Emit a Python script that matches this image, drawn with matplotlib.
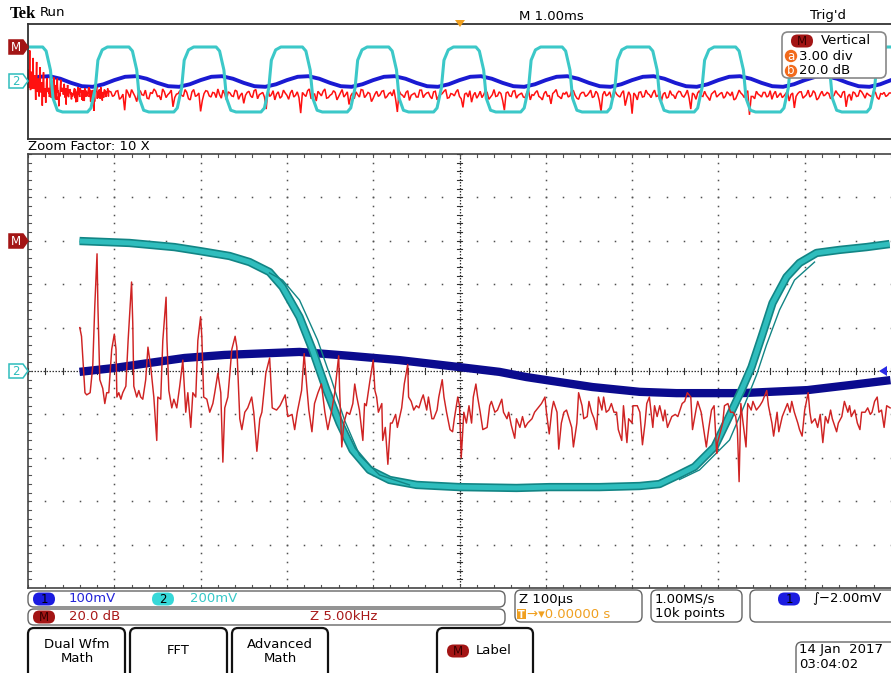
import numpy as np
import matplotlib
matplotlib.use("Agg")
import matplotlib.pyplot as plt
from matplotlib.patches import FancyBboxPatch, Polygon, Circle, Rectangle

plt.rcParams['font.family'] = ['DejaVu Sans']

# ---------------- zoomed window (100 us/div) ----------------
# channel 2, main persistence band (time us, mV)
ch2_zoom_us = [-440.3, -382.4, -330.2, -301.3, -266.5, -243.3, -220.2, -205.1, -185.4, -170.3,
               -154.1, -139.0, -124.0, -104.3, -81.1, -49.8, 0.0, 66.0, 104.3, 162.2,
               208.6, 231.7, 249.1, 272.3, 295.5, 310.5, 326.8, 338.4, 350.0, 362.7,
               378.9, 394.0, 413.7, 440.3, 471.6, 498.3]
ch2_zoom_mv = [599, 590, 571, 553, 530, 502, 456, 387, 249, 97,
               -88, -240, -364, -456, -502, -525, -535, -539, -535, -535,
               -530, -521, -488, -442, -350, -226, -88, 18, 157, 313,
               433, 498, 544, 558, 571, 585]
# channel 2, stray acquisitions on the falling and rising edges
ch2_fall_us = [-220.2, -205.1, -185.4, -164.5, -148.3, -133.3, -115.9, -92.7, -57.9]
ch2_fall_mv = [452, 419, 327, 143, -41, -226, -387, -479, -525]
ch2_rise_us = [255.0, 278.1, 312.9, 330.2, 344.2, 355.7, 370.8, 388.2, 411.4]
ch2_rise_mv = [-500, -456, -318, -157, -18, 120, 281, 419, 502]
# channel 1 (time us, mV)
ch1_zoom_us = [-440.3, -399.8, -361.5, -318.7, -272.3, -222.5, -185.4, -127.5, -69.5, 0.0,
               46.3, 77.6, 100.8, 154.1, 208.6, 251.4, 326.8, 403.2, 454.2, 499.4]
ch1_zoom_mv = [-2, 7, 18, 30, 37, 41, 44, 35, 25, 9,
               -2, -14, -21, -37, -48, -51, -51, -44, -32, -21]
# math FFT, zoomed span (kHz, dB)
fft_zoom_khz = [
    0.0, 0.1, 0.3, 0.4, 0.6, 0.75, 0.87, 1.0, 1.05, 1.16,
    1.33, 1.45, 1.56, 1.68, 1.85, 2.0, 2.1, 2.15, 2.26, 2.38,
    2.49, 2.67, 2.8, 3.0, 3.07, 3.13, 3.3, 3.42, 3.53, 3.65,
    3.82, 3.95, 4.11, 4.29, 4.46, 4.52, 4.69, 4.81, 5.0, 5.05,
    5.16, 5.33, 5.45, 5.62, 5.79, 5.97, 6.14, 6.26, 6.43, 6.55,
    6.72, 6.84, 7.0, 7.07, 7.18, 7.36, 7.53, 7.71, 7.82, 8.0,
    8.17, 8.29, 8.4, 8.58, 8.81, 9.0, 9.1, 9.27, 9.39, 9.56,
    9.73, 9.96, 10.08, 10.26, 10.43, 10.55, 10.78, 11.0, 11.15, 11.4,
    11.6, 11.9, 12.05, 12.3, 12.45, 12.6, 12.85, 13.0, 13.15, 13.27,
    13.45, 13.6, 13.8, 14.0, 14.2, 14.37, 14.6, 14.77, 15.0, 15.06,
    15.18, 15.3, 15.47, 15.64, 15.82, 15.93, 16.05, 16.2, 16.4, 16.5,
    16.6, 16.8, 17.0, 17.1, 17.2, 17.3, 17.5, 17.55, 17.7, 17.85,
    18.0, 18.1, 18.3, 18.4, 18.65, 18.8, 19.0, 19.05, 19.2, 19.35,
    19.5, 19.65, 19.8, 19.9, 20.1, 20.2, 20.4, 20.5, 20.7, 20.8,
    21.0, 21.1, 21.25, 21.45, 21.6, 21.7, 21.9, 22.0, 22.1, 22.25,
    22.4, 22.55, 22.7, 22.8, 22.95, 23.05, 23.2, 23.35, 23.6, 23.75,
    23.85, 24.05, 24.2, 24.45, 24.55, 24.75, 24.85, 25.0, 25.2, 25.3,
    25.5, 25.65, 25.8, 25.95, 26.2, 26.35, 26.55, 26.75, 26.95, 27.05,
    27.2, 27.35, 27.45, 27.65, 27.75, 27.9, 28.05, 28.2, 28.35, 28.5,
    28.6, 28.8, 28.9, 29.1, 29.2, 29.4, 29.5, 29.65, 29.8, 29.95,
    30.05, 30.25, 30.35, 30.5, 30.65, 30.8, 30.95, 31.1, 31.2, 31.4,
    31.5, 31.7, 31.8, 32.0, 32.05, 32.3, 32.45, 32.6, 32.75, 32.85,
    33.0, 33.2, 33.3, 33.45, 33.6, 33.8, 33.9, 34.05, 34.3, 34.5,
    34.65, 34.9, 35.05, 35.2, 35.4, 35.5, 35.7, 35.8, 36.0, 36.15,
    36.3, 36.45, 36.6, 36.75, 36.9, 36.95, 37.15, 37.25, 37.35, 37.55,
    37.7, 37.85, 38.0, 38.1, 38.2, 38.3, 38.4, 38.6, 38.7, 38.9,
    39.0, 39.2, 39.4, 39.55, 39.8, 39.9, 40.1, 40.2, 40.4, 40.5,
    40.7, 40.85, 41.0, 41.15, 41.25, 41.4, 41.6, 41.7, 41.85, 42.0,
    42.2, 42.3, 42.4, 42.6, 42.75, 42.9, 43.05, 43.2, 43.35, 43.5,
    43.6, 43.85, 43.95, 44.15, 44.3, 44.5, 44.6, 44.7, 44.9, 45.05,
    45.2, 45.3, 45.5, 45.65, 45.8, 45.9, 46.05, 46.2, 46.3, 46.45,
    46.6, 46.75, 46.95]
fft_zoom_db = [
    -40, -44, -70, -71, -70, -58, -30, -6, -30, -64,
    -68, -75, -70, -70, -50, -43, -50, -72, -70, -73,
    -70, -67, -46, -19, -38, -67, -72, -69, -72, -73,
    -64, -49, -58, -72, -92, -72, -73, -46, -26, -46,
    -69, -77, -73, -77, -67, -55, -79, -70, -86, -70,
    -72, -46, -35, -44, -72, -73, -79, -75, -70, -61,
    -70, -102, -77, -72, -50, -44, -49, -82, -87, -79,
    -77, -72, -79, -97, -82, -79, -61, -54, -77, -78,
    -76, -71, -81, -80, -87, -79, -69, -52, -67, -78,
    -88, -75, -70, -66, -79, -87, -78, -70, -53, -70,
    -95, -84, -79, -80, -75, -66, -72, -78, -92, -75,
    -76, -65, -55, -69, -72, -79, -75, -92, -86, -103,
    -84, -84, -80, -86, -77, -66, -57, -72, -74, -78,
    -76, -77, -73, -71, -78, -72, -82, -82, -78, -72,
    -64, -72, -79, -87, -88, -82, -72, -76, -100, -79,
    -84, -76, -84, -72, -66, -72, -79, -87, -86, -76,
    -74, -79, -78, -73, -79, -82, -79, -85, -91, -82,
    -86, -81, -86, -84, -82, -79, -77, -75, -72, -80,
    -89, -78, -74, -79, -96, -84, -79, -78, -82, -86,
    -95, -84, -70, -76, -82, -81, -74, -79, -82, -87,
    -72, -78, -72, -79, -78, -75, -79, -79, -87, -92,
    -76, -93, -82, -84, -76, -76, -79, -94, -84, -75,
    -72, -86, -76, -81, -76, -83, -78, -86, -81, -80,
    -81, -75, -74, -70, -72, -87, -78, -74, -79, -87,
    -95, -86, -78, -76, -98, -93, -87, -84, -76, -75,
    -79, -79, -81, -87, -111, -75, -82, -95, -75, -78,
    -74, -78, -76, -74, -69, -76, -84, -90, -79, -88,
    -81, -78, -75, -79, -74, -79, -84, -87, -90, -78,
    -70, -79, -84, -82, -86, -80, -93, -81, -84, -78,
    -82, -88, -84, -81, -74, -79, -76, -81, -78, -84,
    -87, -79, -79, -77, -80, -79, -74, -72, -79, -78,
    -86, -76, -77]

# ---------------- full record (1 ms/div) ----------------
ch2_over_ms = [-5.0,
    -4.83, -4.79, -4.74, -4.71, -4.66, -4.60, -4.31, -4.27, -4.22, -4.19, -4.14, -4.08,
    -3.83, -3.79, -3.74, -3.71, -3.66, -3.60, -3.31, -3.27, -3.22, -3.19, -3.14, -3.08,
    -2.82, -2.78, -2.73, -2.70, -2.65, -2.59, -2.30, -2.26, -2.21, -2.18, -2.13, -2.07,
    -1.82, -1.78, -1.73, -1.70, -1.65, -1.59, -1.30, -1.26, -1.21, -1.18, -1.13, -1.07,
    -0.82, -0.78, -0.73, -0.70, -0.65, -0.59, -0.30, -0.26, -0.21, -0.18, -0.13, -0.07,
    0.19, 0.23, 0.28, 0.31, 0.36, 0.42, 0.71, 0.75, 0.80, 0.83, 0.88, 0.94,
    1.19, 1.23, 1.28, 1.31, 1.36, 1.42, 1.71, 1.75, 1.80, 1.83, 1.88, 1.94,
    2.20, 2.24, 2.29, 2.32, 2.37, 2.43, 2.72, 2.76, 2.81, 2.84, 2.89, 2.95,
    3.20, 3.24, 3.29, 3.32, 3.37, 3.43, 3.72, 3.76, 3.81, 3.84, 3.89, 3.95,
    4.20, 4.24, 4.29, 4.32, 4.37, 4.43, 4.72, 4.76, 4.81, 4.84, 4.89, 4.95,
    5.0]
ch2_over_mv = [600,
    600, 530, 200, -290, -500, -530, -530, -460, -110, 370, 550, 600,
    600, 530, 200, -290, -500, -530, -530, -460, -110, 370, 550, 600,
    600, 530, 200, -290, -500, -530, -530, -460, -110, 370, 550, 600,
    600, 530, 200, -290, -500, -530, -530, -460, -110, 370, 550, 600,
    600, 530, 200, -290, -500, -530, -530, -460, -110, 370, 550, 600,
    600, 530, 200, -290, -500, -530, -530, -460, -110, 370, 550, 600,
    600, 530, 200, -290, -500, -530, -530, -460, -110, 370, 550, 600,
    600, 530, 200, -290, -500, -530, -530, -460, -110, 370, 550, 600,
    600, 530, 200, -290, -500, -530, -530, -460, -110, 370, 550, 600,
    600, 530, 200, -290, -500, -530, -530, -460, -110, 370, 550, 600,
    600]
ch1_over_ms = np.arange(-5.0, 5.0001, 0.125)
ch1_over_mv = [12, 41, 46, 24, -12, -41, -46, -24,
               12, 41, 46, 24, -12, -41, -46, -24,
               12, 41, 46, 24, -12, -41, -46, -24,
               12, 41, 46, 24, -12, -41, -46, -24,
               12, 41, 46, 24, -12, -41, -46, -24,
               12, 41, 46, 24, -12, -41, -46, -24,
               12, 41, 46, 24, -12, -41, -46, -24,
               12, 41, 46, 24, -12, -41, -46, -24,
               12, 41, 46, 24, -12, -41, -46, -24,
               12, 41, 46, 24, -12, -41, -46, -24,
               12]
# FFT noise floor above the zoomed span (kHz, dB): even and odd kHz bins
fft_even_khz = np.arange(48, 500.1, 2)
fft_even_db = [
    -78, -84, -76, -88, -110, -80, -74, -86, -79, -83,
    -75, -90, -81, -77, -85, -73, -88, -80, -104, -82,
    -76, -86, -79, -92, -74, -84, -112, -81, -77, -87,
    -80, -73, -89, -82, -78, -85, -75, -91, -80, -84,
    -77, -88, -74, -83, -79, -108, -86, -76, -82, -89,
    -75, -84, -80, -87, -78, -115, -83, -76, -90, -81,
    -77, -85, -73, -88, -82, -79, -86, -74, -83, -100,
    -80, -78, -87, -75, -84, -81, -89, -77, -83, -76,
    -86, -79, -74, -113, -82, -88, -76, -84, -80, -87,
    -75, -83, -79, -90, -77, -85, -81, -74, -88, -82,
    -78, -86, -105, -80, -76, -84, -89, -77, -83, -79,
    -87, -74, -85, -81, -110, -78, -86, -76, -84, -80,
    -88, -75, -83, -79, -86, -92, -77, -84, -81, -74,
    -87, -80, -78, -85, -76, -89, -82, -79, -84, -75,
    -86, -81, -112, -77, -83, -88, -76, -85, -80, -102,
    -78, -116, -84, -79, -87, -75, -83, -80, -86, -77,
    -82, -89, -76, -84, -81, -78, -87, -75, -108, -83,
    -80, -85, -77, -88, -82, -76, -84, -79, -86, -81,
    -78, -90, -75, -83, -80, -118, -86, -77, -84, -79,
    -87, -76, -82, -88, -80, -85, -77, -83, -106, -81,
    -78, -86, -75, -84, -80, -89, -77, -83, -81, -87,
    -76, -84, -79, -104, -82, -78, -86, -75, -83, -80,
    -85, -77, -88, -81, -79, -84, -80]
fft_odd_khz = np.arange(49, 499.1, 2)
fft_odd_db = [
    -86, -77, -91, -82, -74, -88, -80, -95, -76, -84,
    -89, -79, -73, -86, -92, -78, -83, -75, -88, -81,
    -84, -74, -90, -78, -86, -80, -93, -76, -85, -79,
    -88, -83, -75, -92, -80, -86, -77, -84, -98, -79,
    -85, -76, -90, -81, -87, -74, -83, -92, -78, -86,
    -80, -91, -75, -84, -88, -79, -86, -73, -85, -94,
    -81, -77, -89, -84, -76, -92, -80, -87, -78, -85,
    -90, -83, -74, -88, -79, -95, -82, -86, -77, -89,
    -81, -85, -91, -76, -84, -79, -93, -82, -87, -75,
    -88, -80, -86, -78, -92, -83, -77, -89, -81, -85,
    -74, -90, -82, -87, -96, -79, -84, -88, -76, -91,
    -83, -86, -78, -93, -80, -85, -77, -89, -82, -87,
    -79, -92, -84, -76, -88, -81, -86, -99, -78, -85,
    -90, -82, -87, -75, -84, -91, -79, -86, -80, -88,
    -77, -93, -83, -85, -78, -90, -82, -87, -76, -89,
    -84, -80, -92, -78, -86, -81, -88, -75, -85, -94,
    -79, -87, -83, -90, -77, -85, -82, -88, -80, -91,
    -76, -86, -84, -93, -79, -87, -81, -89, -78, -85,
    -92, -83, -80, -88, -76, -86, -90, -82, -87, -79,
    -85, -91, -77, -84, -88, -81, -94, -80, -86, -78,
    -89, -83, -87, -76, -92, -82, -85, -79, -90, -84,
    -81, -88, -77, -86, -93, -80, -85, -78, -89, -83,
    -87, -79, -91, -82, -86, -80]

# ---------------- colours ----------------
CYAN = '#2fbdbd'
CYAN_O = '#3cc8c8'
CYAN_DARK = '#128585'
NAVY = '#0b0b8e'
BLUE = '#1a1ad2'
RED_Z = '#cf2323'
RED_O = '#ff1010'
DRED = '#a31515'
ORANGE = '#f0a020'
ORANGE2 = '#f26a1b'

W, H = 891.0, 673.0
fig = plt.figure(figsize=(8.91, 6.73), dpi=100)
fig.patch.set_facecolor('white')


def px_axes(x0, y0, x1, y1, z):
    ax = fig.add_axes([x0 / W, 1 - y1 / H, (x1 - x0) / W, (y1 - y0) / H])
    ax.set_axis_off()
    ax.patch.set_alpha(0)
    ax.set_zorder(z)
    return ax


base = px_axes(0, 0, W, H, 10)
base.set_xlim(0, W)
base.set_ylim(H, 0)

# full-span FFT table, sorted by frequency
full_khz = np.concatenate([fft_zoom_khz, fft_even_khz, fft_odd_khz])
full_db = np.concatenate([fft_zoom_db, fft_even_db, fft_odd_db])
order = np.argsort(full_khz, kind='stable')

# ---------------- full record strip ----------------
OX0, OY0, OX1, OY1 = 28, 24, 891, 139
ov1 = px_axes(OX0, OY0, OX1, OY1, 2)
ov1.set_xlim(-5, 5); ov1.set_ylim(-500, 500)
ov1.plot(ch1_over_ms, ch1_over_mv, color=BLUE, lw=2.8, solid_joinstyle='round')
ovf = px_axes(OX0, OY0, OX1, OY1, 3)
ovf.set_xlim(0, 500); ovf.set_ylim(-160, 40)
ovf.plot(full_khz[order], full_db[order], color=RED_O, lw=1.1, solid_joinstyle='miter')
ov2 = px_axes(OX0, OY0, OX1, OY1, 4)
ov2.set_xlim(-5, 5); ov2.set_ylim(-1000, 1000)
ov2.plot(ch2_over_ms, ch2_over_mv, color=CYAN_O, lw=2.2, solid_joinstyle='round')

base.plot([OX0, W], [OY0, OY0], color='#333333', lw=1.3)
base.plot([OX0, W], [OY1, OY1], color='#333333', lw=1.3)
base.plot([OX0, OX0], [OY0, OY1], color='#333333', lw=1.3)

# ---------------- zoomed window ----------------
MX0, MY0, MX1, MY1 = 28, 154, 891, 588
grid = px_axes(MX0, MY0, MX1, MY1, 1)
grid.set_xlim(0, 10); grid.set_ylim(0, 10)
steps = np.arange(0, 10.001, 0.2)
dot = dict(ls='none', marker='s', ms=1.1, mec='none', mfc='#505050')
for k in range(1, 10):
    if k == 5:
        continue
    grid.plot(np.full_like(steps, k), steps, **dot)
    grid.plot(steps, np.full_like(steps, k), **dot)
grid.plot([0, 10], [5, 5], color='#333333', lw=0.9, ls=(0, (1.2, 1.2)))
grid.plot([5, 5], [0, 10], color='#333333', lw=0.9, ls=(0, (1.2, 1.2)))
for s in steps:
    grid.plot([s, s], [5 - 0.06, 5 + 0.06], color='#333333', lw=0.8)
    grid.plot([5 - 0.03, 5 + 0.03], [s, s], color='#333333', lw=0.8)
    grid.plot([s, s], [10, 9.93], color='#555555', lw=0.8)
    grid.plot([s, s], [0, 0.07], color='#555555', lw=0.8)
    grid.plot([0, 0.035], [s, s], color='#555555', lw=0.8)

z1 = px_axes(MX0, MY0, MX1, MY1, 2)
z1.set_xlim(-500, 500); z1.set_ylim(-500, 500)
z1.plot(ch1_zoom_us, ch1_zoom_mv, color=NAVY, lw=6.0, solid_joinstyle='round', solid_capstyle='butt')

z2 = px_axes(MX0, MY0, MX1, MY1, 3)
z2.set_xlim(-500, 500); z2.set_ylim(-1000, 1000)
z2.plot(ch2_zoom_us, ch2_zoom_mv, color=CYAN_DARK, lw=6.0, solid_joinstyle='round', solid_capstyle='butt')
z2.plot(ch2_zoom_us, ch2_zoom_mv, color=CYAN, lw=3.6, solid_joinstyle='round', solid_capstyle='butt')
z2.plot(ch2_fall_us, ch2_fall_mv, color=CYAN_DARK, lw=1.0)
z2.plot(ch2_rise_us, ch2_rise_mv, color=CYAN_DARK, lw=1.0)

zf = px_axes(MX0, MY0, MX1, MY1, 4)
zf.set_xlim(-3.0, 47.0); zf.set_ylim(-160, 40)
zf.plot(fft_zoom_khz, fft_zoom_db, color=RED_Z, lw=1.05)

base.plot([MX0, W], [MY0, MY0], color='#444444', lw=1.2)
base.plot([MX0, W], [MY1, MY1], color='#444444', lw=1.2)
base.plot([MX0, MX0], [MY0, MY1], color='#444444', lw=1.2)

# ---------------- helpers for screen furniture ----------------
def pill(cx, cy, w, h, fc, txt, tc, size=8.5):
    base.add_patch(FancyBboxPatch((cx - w / 2, cy - h / 2), w, h,
                                  boxstyle=f"round,pad=0,rounding_size={h / 2}",
                                  fc=fc, ec='none', zorder=5))
    base.text(cx, cy + 0.5, txt, ha='center', va='center', color=tc, size=size, zorder=6)


def panel(x, y, w, h, r=6, ec='#666666', lw=1.0):
    base.add_patch(FancyBboxPatch((x, y), w, h, boxstyle=f"round,pad=0,rounding_size={r}",
                                  fc='white', ec=ec, lw=lw, zorder=3))


def marker(cy, fc, ec, txt, tc):
    pts = [(9, cy - 7), (23, cy - 7), (28, cy), (23, cy + 7), (9, cy + 7)]
    base.add_patch(Polygon(pts, closed=True, fc=fc, ec=ec, lw=1.1, zorder=5))
    base.text(16, cy + 0.5, txt, ha='center', va='center', color=tc, size=8.5, zorder=6)


# ---------------- header ----------------
base.text(10, 14, 'Tek', family='Liberation Serif', weight='bold', size=12, va='center')
base.text(40, 13, 'Run', size=9.5, va='center')
base.text(519, 16, 'M 1.00ms', size=9.5, va='center')
base.text(810, 16, "Trig'd", size=9.5, va='center')
base.add_patch(Polygon([(455, 20), (465, 20), (460, 27)], closed=True, fc=ORANGE, ec='none', zorder=6))

marker(47, DRED, DRED, 'M', 'white')
marker(81, 'white', CYAN, '2', CYAN)
marker(241, DRED, DRED, 'M', 'white')
marker(371, 'white', CYAN, '2', CYAN)
base.add_patch(Polygon([(879, 371), (887, 366), (887, 376)], closed=True, fc='#2a2ae6', ec='none', zorder=6))

# vertical-setting readout
panel(782, 32, 104, 46, r=6, ec='#888888', lw=1.2)
pill(802, 41, 22, 13, DRED, 'M', '#3a0000')
base.text(821, 41, 'Vertical', size=9.5, va='center', zorder=6)
base.add_patch(Circle((791, 56), 6.2, fc=ORANGE2, ec='none', zorder=5))
base.text(791, 56, 'a', color='white', ha='center', va='center', size=8.5, zorder=6)
base.text(799, 56, '3.00 div', size=9.5, va='center', zorder=6)
base.add_patch(Circle((791, 71), 6.2, fc=ORANGE2, ec='none', zorder=5))
base.text(791, 71, 'b', color='white', ha='center', va='center', size=8.5, zorder=6)
base.text(799, 71, '20.0 dB', size=9.5, va='center', zorder=6)

base.text(28, 147, 'Zoom Factor: 10 X', size=9.5, va='center')

# ---------------- status bars ----------------
panel(28, 591, 477, 16, r=6)
panel(28, 609, 477, 16, r=6)
pill(44, 599, 22, 13, '#1c1ce0', '1', 'black')
base.text(69, 599, '100mV', color='#2424d8', size=9.5, va='center', zorder=6)
pill(163, 599, 22, 13, '#36d8d8', '2', 'black')
base.text(190, 599, '200mV', color='#36c8c8', size=9.5, va='center', zorder=6)
pill(44, 617, 22, 13, DRED, 'M', '#3a0000')
base.text(69, 617, '20.0 dB', color='#a81818', size=9.5, va='center', zorder=6)
base.text(310, 617, 'Z 5.00kHz', color='#a81818', size=9.5, va='center', zorder=6)

panel(515, 590, 127, 32, r=6)
base.text(519, 599, 'Z 100µs', size=9.5, va='center', zorder=6)
base.add_patch(Rectangle((517, 609), 9, 10, fc=ORANGE, ec='none', zorder=5))
base.text(521.5, 614.5, 'T', color='white', ha='center', va='center', size=7, weight='bold', zorder=6)
base.text(527, 614, '→▾0.00000 s', color=ORANGE, size=9.5, va='center', zorder=6)

panel(651, 590, 91, 32, r=6)
base.text(655, 599, '1.00MS/s', size=9.5, va='center', zorder=6)
base.text(655, 614, '10k points', size=9.5, va='center', zorder=6)

panel(750, 590, 150, 32, r=6)
pill(789, 599, 22, 13, '#1c1ce0', '1', 'black')
base.text(812, 599, '∫−2.00mV', size=9.5, va='center', zorder=6)

# ---------------- soft keys ----------------
for x0, x1 in [(28, 125), (130, 227), (232, 328), (437, 533)]:
    panel(x0, 628, x1 - x0, 60, r=6, ec='#111111', lw=1.6)
base.text(77, 645, 'Dual Wfm', ha='center', va='center', size=9.5, zorder=6)
base.text(77, 659, 'Math', ha='center', va='center', size=9.5, zorder=6)
base.text(178, 651, 'FFT', ha='center', va='center', size=9.5, zorder=6)
base.text(280, 644, 'Advanced', ha='center', va='center', size=9.5, zorder=6)
base.text(280, 658, 'Math', ha='center', va='center', size=9.5, zorder=6)
pill(458, 651, 22, 13, DRED, 'M', '#3a0000')
base.text(476, 651, 'Label', size=9.5, va='center', zorder=6)

panel(796, 642, 105, 40, r=6)
base.text(799, 650, '14 Jan  2017', size=9.5, va='center', zorder=6)
base.text(799, 664, '03:04:02', size=9.5, va='center', zorder=6)

fig.savefig('out.png', dpi=100, facecolor='white')
